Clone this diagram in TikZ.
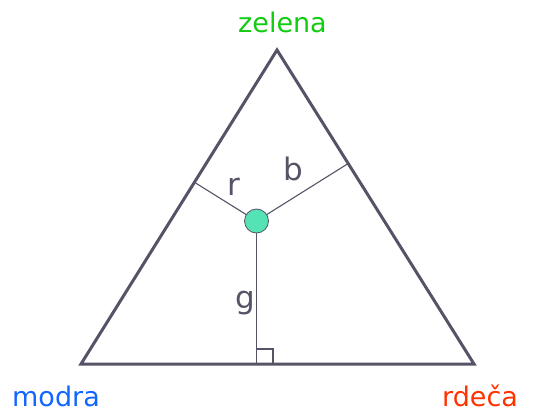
\documentclass[tikz,border=0pt]{standalone}
\usepackage{fontspec}
\setmainfont{DejaVu Sans}
\usetikzlibrary{calc}
\definecolor{edge}{HTML}{545466}
\definecolor{dot}{HTML}{55E3B5}
\definecolor{zel}{HTML}{11CC11}
\definecolor{mod}{HTML}{1166FF}
\definecolor{rde}{HTML}{FF3300}
\tikzset{
  corner/.style={font=\fontsize{27}{27}\selectfont, anchor=base, inner sep=0pt},
  inlabel/.style={font=\fontsize{31}{31}\selectfont, text=edge, anchor=base, inner sep=0pt},
  thinline/.style={draw=edge, line width=1.1pt},
}
\begin{document}
\begin{tikzpicture}[x=1pt,y=-1pt]
\useasboundingbox (0,0) rectangle (546,412);
\coordinate (T) at (277,50);
\coordinate (L) at (81,364);
\coordinate (R) at (474,364);
\coordinate (P) at (256.5,221);
\coordinate (FL) at ($(L)!(P)!(T)$);
\coordinate (FR) at ($(R)!(P)!(T)$);
\coordinate (FB) at (256.5,364);
\draw[thinline] (P) -- (FL);
\draw[thinline] (P) -- (FR);
\draw[thinline] (P) -- (FB);
\draw[thinline] (256.5,364) -- (256.5,349) -- (273,349) -- (273,364);
\draw[draw=edge, line width=3pt, line join=miter] (L) -- (T) -- (R) -- cycle;
\node[circle, draw=edge, line width=0.8pt, fill=dot, minimum size=24pt, inner sep=0pt] (dotnode) at (P) {};
\node[corner, text=zel] (zelena) at (282.5,33) {zelena};
\node[corner, text=mod] (modra) at (56,406) {modra};
\node[corner, text=rde] (rdeca) at (480,406) {rdeča};
\node[inlabel] (r) at (234,195) {r};
\node[inlabel] (b) at (293,180) {b};
\node[inlabel] (g) at (245,308) {g};
\end{tikzpicture}
\end{document}
